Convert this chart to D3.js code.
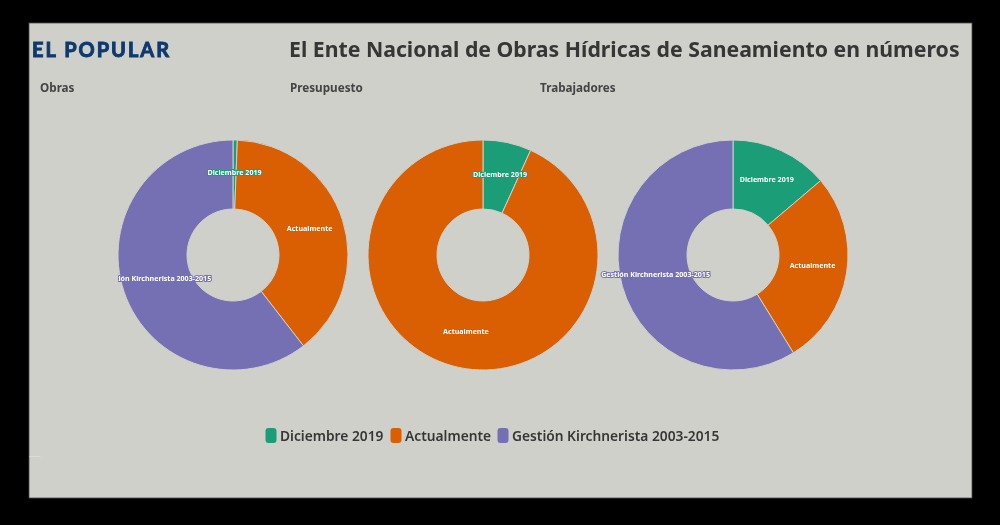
<!DOCTYPE html>
<html><head><meta charset="utf-8">
<script src="https://cdn.jsdelivr.net/npm/d3@7"></script>
<style>html,body{margin:0;padding:0;background:#000}svg{display:block;filter:blur(.4px)}</style>
</head><body><div id="c"></div>
<script>
const titleText = "El Ente Nacional de Obras Hídricas de Saneamiento en números";
const logoText = "EL POPULAR";
const categories = ["Diciembre 2019", "Actualmente", "Gestión Kirchnerista 2003-2015"];
const colors = ["#1b9e77", "#d95f02", "#7570b3"];
const panelNames = ["Obras", "Presupuesto", "Trabajadores"];
const obras = [0.6, 38.9, 60.5];
const presupuesto = [6.8, 93.2, 0];
const trabajadores = [13.8, 27.4, 58.8];
const panelValues = [obras, presupuesto, trabajadores];
const panelCenters = [233, 483, 733];
const panelTitleX = [40, 290, 540];

const W = 1000, H = 525, font = "'Noto Sans',sans-serif";
const svg = d3.select("#c").append("svg").attr("width", W).attr("height", H);
svg.append("rect").attr("width", W).attr("height", H).attr("fill", "#000");
svg.append("rect").attr("x", 29).attr("y", 23).attr("width", 943).attr("height", 475)
  .attr("fill", "#cfd0ca").attr("stroke", "#4a4a4a").attr("stroke-width", 0.8);
svg.append("rect").attr("x", 29.5).attr("y", 456).attr("width", 11).attr("height", 1).attr("fill", "#dcdcd8");

svg.append("text").attr("x", 32).attr("y", 56.5).attr("font-family", "Lato,sans-serif")
  .attr("font-weight", 700).attr("font-size", 20).attr("textLength", 137).attr("lengthAdjust", "spacing")
  .attr("stroke", "#0e3a6e").attr("stroke-width", 0.9).attr("fill", "#0e3a6e").text(logoText);
svg.append("text").attr("x", 289).attr("y", 57).attr("font-family", font)
  .attr("font-weight", 700).attr("font-size", 21.25).attr("fill", "#363636").text(titleText);

svg.append("clipPath").attr("id", "clip0").append("rect").attr("x", 118).attr("y", 100).attr("width", 240).attr("height", 300);

const color = d3.scaleOrdinal().domain(categories).range(colors);
const pie = d3.pie().sort(null);
const rO = 115, rI = 46;
const arc = d3.arc().innerRadius(rI).outerRadius(rO);

panelValues.forEach((vals, p) => {
  svg.append("text").attr("x", panelTitleX[p]).attr("y", 92).attr("font-family", font)
    .attr("font-weight", 700).attr("font-size", 11.7).attr("fill", "#444").text(panelNames[p]);
  const g = svg.append("g").attr("transform", `translate(${panelCenters[p]},255)`);
  const arcs = pie(vals);
  g.selectAll("path").data(arcs.filter(a => a.data > 0)).join("path")
    .attr("d", arc).attr("fill", d => colors[d.index])
    .attr("stroke", "#cfd0ca").attr("stroke-width", 1);
  const lg = svg.append("g").attr("clip-path", p === 0 ? "url(#clip0)" : null);
  lg.selectAll("text").data(arcs.filter(a => a.data > 0)).join("text")
    .attr("transform", d => {
      const [x, y] = arc.centroid(d);
      return `translate(${panelCenters[p] + x},${255 + y})`;
    })
    .attr("text-anchor", "middle").attr("dy", "0.05em")
    .attr("font-family", font).attr("font-weight", 700).attr("font-size", 7.1)
    .attr("fill", "#fff").attr("stroke", d => color(categories[d.index])).attr("stroke-width", 2)
    .attr("paint-order", "stroke")
    .text(d => categories[d.index]);
});

const legendX = [265.5, 390.5, 497.5], legendTextX = [280, 405, 512];
categories.forEach((c, i) => {
  svg.append("rect").attr("x", legendX[i]).attr("y", 428).attr("width", 11).attr("height", 15).attr("rx", 3).attr("fill", colors[i]);
  svg.append("text").attr("x", legendTextX[i]).attr("y", 441).attr("font-family", font)
    .attr("font-weight", 600).attr("font-size", 13.75).attr("fill", "#363636").text(c);
});
</script></body></html>
